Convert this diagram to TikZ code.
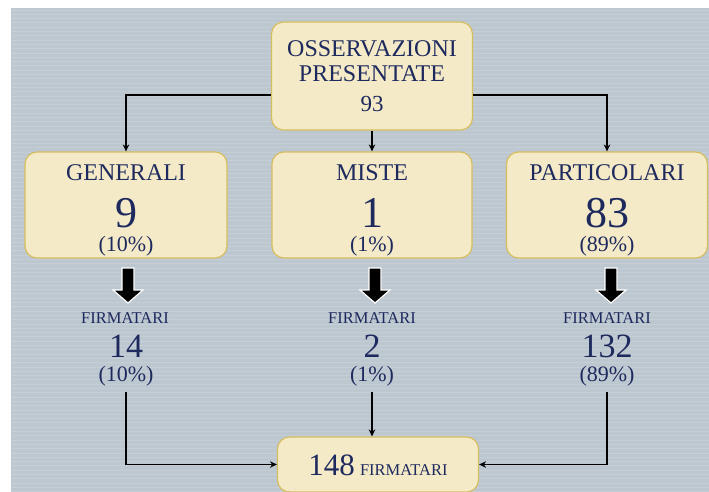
\documentclass[tikz,border=0pt]{standalone}
\usepackage{fontspec}
\setmainfont{Liberation Serif}
\usetikzlibrary{arrows.meta}
\definecolor{bgblue}{HTML}{BDC7D0}
\definecolor{boxfill}{HTML}{F4EAC7}
\definecolor{boxline}{HTML}{D6BE5E}
\definecolor{navy}{HTML}{1E2A5E}
\newcommand{\fs}[1]{\fontsize{#1}{#1}\selectfont}

\begin{document}
\begin{tikzpicture}[x=1pt,y=-1pt,
  box/.style={draw=boxline,line width=1.2pt,fill=boxfill,rounded corners=12pt,inner sep=0pt},
  txt/.style={text=navy,anchor=base,inner sep=0pt},
  conn/.style={line width=1.6pt,-{Stealth[length=7pt,width=6.5pt]}}]
\useasboundingbox (0,0) rectangle (709,492);
\clip (0,0) rectangle (709,492);

% Background (striped panel)
\fill[bgblue] (11,8) rectangle (709,492);
\foreach \y in {10,14.3,...,492} {
    \draw[white,opacity=0.13,line width=0.8pt] (11,\y) -- (709,\y);
}

% Boxes
\node[box,minimum width=201pt,minimum height=108pt] (oss) at (372,76) {};
\node[box,minimum width=202pt,minimum height=106pt] (gen) at (126,205) {};
\node[box,minimum width=200pt,minimum height=106pt] (mis) at (372,205) {};
\node[box,minimum width=201pt,minimum height=106pt] (par) at (607,205) {};
\node[box,minimum width=201pt,minimum height=55pt] (tot) at (378,464.5) {};

% Top box text
\node[txt,font=\fs{24}] (ossA) at (372,57) {OSSERVAZIONI};
\node[txt,font=\fs{24}] (ossB) at (372,82) {PRESENTATE};
\node[txt,font=\fs{23}] (ossC) at (372,112) {93};

% Category boxes text
\node[txt,font=\fs{24}] (genA) at (126,180) {GENERALI};
\node[txt,font=\fs{44}] (genB) at (126,227) {9};
\node[txt,font=\fs{22}] (genC) at (126,251) {(10\%)};

\node[txt,font=\fs{24}] (misA) at (372,180) {MISTE};
\node[txt,font=\fs{44}] (misB) at (372,227) {1};
\node[txt,font=\fs{22}] (misC) at (372,251) {(1\%)};

\node[txt,font=\fs{24}] (parA) at (607,180) {PARTICOLARI};
\node[txt,font=\fs{44}] (parB) at (607,227) {83};
\node[txt,font=\fs{22}] (parC) at (607,251) {(89\%)};

% Block arrows
\foreach \x in {128,375,611} {
    \draw[fill=black,draw=white,line width=1.2pt,line join=miter]
      ({\x-6},268) -- ({\x+6},268) -- ({\x+6},290) -- ({\x+15},290)
      -- (\x,303) -- ({\x-15},290) -- ({\x-6},290) -- cycle;
}

% Signatories
\node[txt,font=\fs{16.5}] (gF) at (125,323) {FIRMATARI};
\node[txt,font=\fs{34}] (gN) at (126,357) {14};
\node[txt,font=\fs{22}] (gP) at (126,381) {(10\%)};

\node[txt,font=\fs{16.5}] (mF) at (372,323) {FIRMATARI};
\node[txt,font=\fs{34}] (mN) at (372,357) {2};
\node[txt,font=\fs{22}] (mP) at (372,381) {(1\%)};

\node[txt,font=\fs{16.5}] (pF) at (607,323) {FIRMATARI};
\node[txt,font=\fs{34}] (pN) at (607,357) {132};
\node[txt,font=\fs{22}] (pP) at (607,381) {(89\%)};

% Total
\node[txt] (totT) at (378,475) {\fs{31}148\,\fs{16.5}FIRMATARI};

% Connectors
\draw[conn] ([yshift=-19pt]oss.west) -| (gen.north);
\draw[conn] (oss.south) -- (mis.north);
\draw[conn] ([yshift=-19pt]oss.east) -| (par.north);
\draw[conn] ([yshift=-6pt]gP.south) |- (tot.west);
\draw[conn] ([yshift=-6pt]mP.south) -- (mP.south |- tot.north);
\draw[conn] ([yshift=-6pt]pP.south) |- (tot.east);
\end{tikzpicture}
\end{document}
